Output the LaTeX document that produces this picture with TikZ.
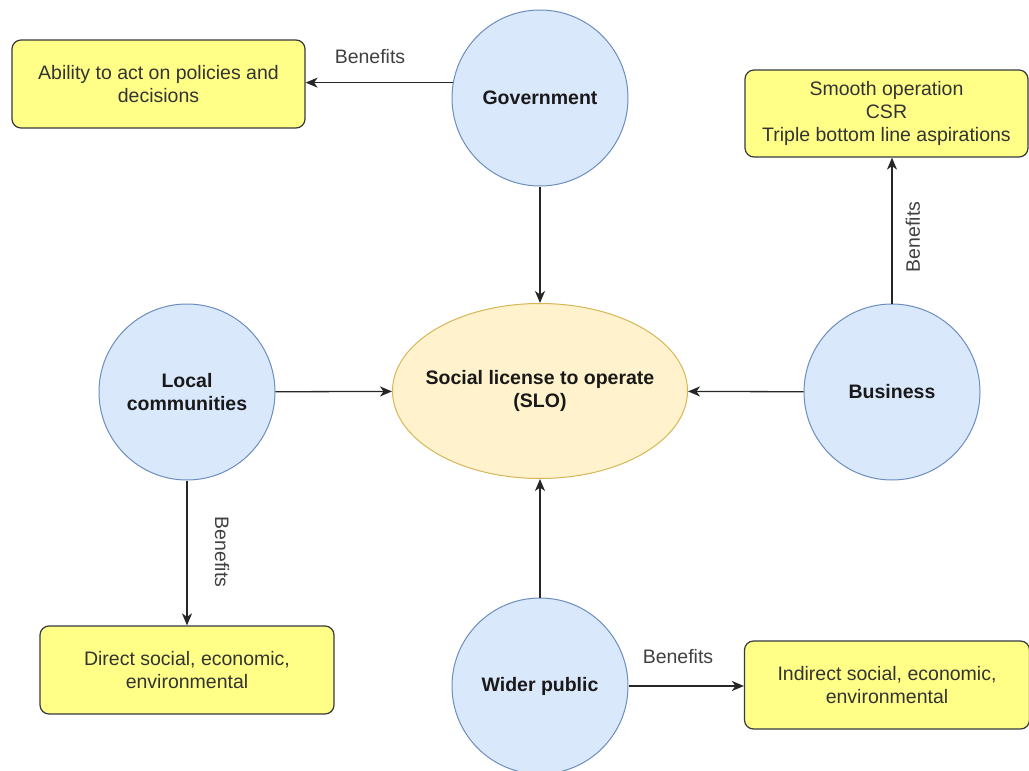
\documentclass[tikz,border=0pt]{standalone}
\usepackage{fontspec}
\setmainfont{Liberation Sans}
\usetikzlibrary{arrows.meta,shapes.geometric}
\definecolor{cfill}{HTML}{DAE8FC}
\definecolor{cdraw}{HTML}{6C8EBF}
\definecolor{efill}{HTML}{FFF2CC}
\definecolor{edraw}{HTML}{D6B656}
\definecolor{bfill}{HTML}{FFFF88}
\definecolor{bdraw}{HTML}{36393D}
\begin{document}
\begin{tikzpicture}[x=1pt,y=-1pt,
  actor/.style={circle,draw=cdraw,fill=cfill,line width=1pt,minimum size=176pt,inner sep=0pt,align=center,text=black!90,font=\fontsize{19.5}{23.5}\selectfont\bfseries},
  slo/.style={ellipse,draw=edraw,fill=efill,line width=1pt,minimum width=295pt,minimum height=175pt,inner sep=0pt},
  slotxt/.style={inner sep=0pt,align=center,text=black!90,font=\fontsize{19.5}{23.5}\selectfont\bfseries},
  note/.style={rectangle,rounded corners=9pt,draw=bdraw,fill=bfill,line width=1.2pt,align=center,inner sep=0pt,text=black!80,font=\fontsize{19.5}{23}\selectfont},
  arr/.style={-{Stealth[length=12pt,width=10pt,inset=3.5pt]},line width=1.3pt,draw=black!85},
  lbl/.style={inner sep=0pt,text=black!75,font=\fontsize{19.5}{23}\selectfont}
]
\useasboundingbox (0,0) rectangle (1029,771);

\node[actor] (gov) at (540,98) {Government};
\node[actor] (loc) at (187,392) {Local\\communities};
\node[actor] (bus) at (892,392) {Business};
\node[actor] (wid) at (540,686) {Wider public};
\node[slo] (slo) at (540,391) {};
\node[slotxt] (slotext) at (slo.center) {Social license to operate\\(SLO)};

\node[note,minimum width=293pt,minimum height=88pt] (ab) at (158.5,84) {Ability to act on policies and\\decisions};
\node[note,minimum width=283pt,minimum height=87pt] (tr) at (886.5,113.5) {Smooth operation\\CSR\\Triple bottom line aspirations};
\node[note,minimum width=294pt,minimum height=88pt] (bd) at (187,670) {Direct social, economic,\\environmental};
\node[note,minimum width=285pt,minimum height=88pt] (br) at (887,685) {Indirect social, economic,\\environmental};

\draw[arr] (gov.170) -- (gov.170 -| ab.east);
\draw[arr] (gov) -- (slo);
\draw[arr] (loc) -- (slo);
\draw[arr] (bus) -- (slo);
\draw[arr] (wid) -- (slo);
\draw[arr] (loc) -- (bd);
\draw[arr] (bus.north) -- (bus.north |- tr.south);
\draw[arr] (wid.east) -- (wid.east -| br.west);

\node[lbl] (l1) at (370,57) {Benefits};
\node[lbl,rotate=90] (l2) at (913,237) {Benefits};
\node[lbl,rotate=-90] (l3) at (222,552) {Benefits};
\node[lbl] (l4) at (678,657) {Benefits};
\end{tikzpicture}
\end{document}
